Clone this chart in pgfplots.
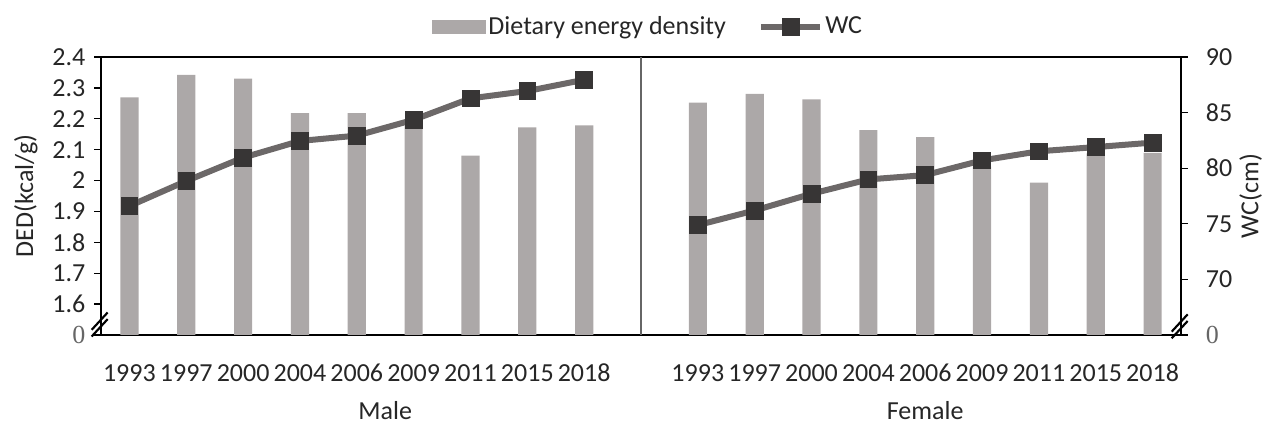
\documentclass[border=0pt]{standalone}
\usepackage{pgfplots}
\pgfplotsset{compat=1.18}
\usepackage{fontspec}
\setmainfont{Carlito}
\newfontfamily\serifz{Liberation Serif}
\definecolor{barc}{RGB}{172,168,168}
\definecolor{linec}{RGB}{108,104,104}
\definecolor{markc}{RGB}{55,53,53}
\newcommand{\fs}{\fontsize{19.5}{23}\selectfont}

\pgfplotstableread{
x ded
0 2.269
1 2.342
2 2.330
3 2.218
4 2.218
5 2.177
6 2.081
7 2.172
8 2.179
10 2.252
11 2.281
12 2.263
13 2.163
14 2.141
15 2.045
16 1.993
17 2.088
18 2.090
}\dedtable

\pgfplotstableread{
x wc
0 76.6
1 78.85
2 80.95
3 82.45
4 82.93
5 84.35
6 86.28
7 86.94
8 87.95
}\wcmale

\pgfplotstableread{
x wc
10 74.88
11 76.20
12 77.70
13 78.99
14 79.38
15 80.70
16 81.52
17 81.90
18 82.30
}\wcfemale

\begin{document}
\fs
\begin{tikzpicture}
\path[use as bounding box] (0pt,0pt) rectangle (951.75pt,318pt);
\pgfplotsset{
  common/.style={
    at={(75.75pt,66.75pt)}, anchor=south west,
    scale only axis, width=810pt, height=208.5pt,
    xmin=-0.5, xmax=18.5,
    clip mode=individual,
    tick align=outside,
    major tick length=5pt,
    axis line style={black, line width=1pt},
    every tick/.style={black, line width=1pt},
    tick label style={font=\fs, text=black!85},
    label style={font=\fs, text=black!85},
  }
}
\begin{axis}[common,
  ymin=1.5, ymax=2.4,
  ytick={1.5,1.6,1.7,1.8,1.9,2.0,2.1,2.2,2.3,2.4},
  yticklabels={{\serifz\color{black!60}\raisebox{-5pt}{0}\hspace{8pt}},1.6,1.7,1.8,1.9,2,2.1,2.2,2.3,2.4},
  ytick pos=left,
  xtick={0,1,2,3,4,5,6,7,8,10,11,12,13,14,15,16,17,18},
  xticklabels={1993,1997,2000,2004,2006,2009,2011,2015,2018,1993,1997,2000,2004,2006,2009,2011,2015,2018},
  xtick pos=bottom,
  x tick style={draw=none},
  xticklabel style={anchor=base, yshift=-30pt},
  ylabel={DED(kcal/g)},
  ylabel style={yshift=-2pt},
  legend style={at={(0.507,1.108)}, anchor=center, draw=none, fill=none,
    legend columns=2, font=\fs, text=black!85,
    /tikz/every even column/.append style={column sep=22pt}},
]
\addplot[ybar, bar width=0.32, fill=barc, draw=none, bar shift=0pt,
  legend image code/.code={\fill[barc] (0pt,-5.5pt) rectangle (40pt,5.5pt);}]
  table[x=x, y=ded] {\dedtable};
\addlegendentry{Dietary energy density}
\addlegendimage{legend image code/.code={
  \draw[linec, line width=4.5pt] (0pt,0pt) -- (44pt,0pt);
  \fill[markc] (16pt,-6.5pt) rectangle (29pt,6.5pt);}}
\addlegendentry{WC}
\addplot[gray!80!black, line width=0.8pt] coordinates {(9,1.5) (9,2.4)};
\draw[black, line width=1.6pt] ([xshift=-7pt,yshift=-10pt]axis cs:-0.5,1.56) -- ++(12pt,13pt);
\draw[black, line width=1.6pt] ([xshift=-7pt,yshift=-15pt]axis cs:-0.5,1.56) -- ++(12pt,13pt);
\node[font=\fs, text=black!85] at ([yshift=-57pt]axis cs:4.5,1.5) {Male};
\node[font=\fs, text=black!85] at ([yshift=-57pt]axis cs:14,1.5) {Female};
\end{axis}
\begin{axis}[common,
  ymin=65, ymax=90,
  ytick={65,70,75,80,85,90},
  yticklabels={{\serifz\color{black!60} 0},70,75,80,85,90},
  axis y line*=right,
  axis x line=none,
  yticklabel style={xshift=7pt},
  ylabel={WC(cm)},
  ylabel style={yshift=8pt},
]
\addplot[linec, line width=4.5pt, mark=square*, mark size=6.3pt,
  mark options={fill=markc, draw=markc, line width=0.5pt}]
  table[x=x, y=wc] {\wcmale};
\addplot[linec, line width=4.5pt, mark=square*, mark size=6.3pt,
  mark options={fill=markc, draw=markc, line width=0.5pt}]
  table[x=x, y=wc] {\wcfemale};
\draw[black, line width=1.6pt] ([xshift=-7pt,yshift=-10pt]axis cs:18.5,66.5) -- ++(12pt,13pt);
\draw[black, line width=1.6pt] ([xshift=-7pt,yshift=-15pt]axis cs:18.5,66.5) -- ++(12pt,13pt);
\end{axis}
\end{tikzpicture}
\end{document}
